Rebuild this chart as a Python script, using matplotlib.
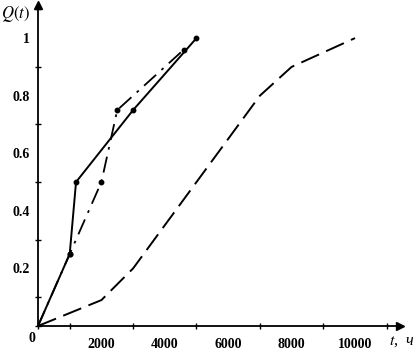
import matplotlib

matplotlib.use("Agg")
import matplotlib.pyplot as plt
from matplotlib.ticker import MultipleLocator, FixedLocator

plt.rcParams["mathtext.fontset"] = "stix"

# solid curve
t_solid = [0, 1000, 1200, 3000, 5000]
q_solid = [0, 0.25, 0.5, 0.75, 1.0]

# dash-dot curve
t_dashdot = [0, 1000, 2000, 2500, 4600]
q_dashdot = [0, 0.25, 0.5, 0.75, 0.96]

# dashed curve
t_dashed = [0, 2000, 3000, 4000, 5000, 6000, 7000, 8000, 10000]
q_dashed = [0, 0.09, 0.2, 0.35, 0.5, 0.65, 0.8, 0.9, 1.0]

x_ticks = [2000, 4000, 6000, 8000, 10000]
y_ticks = [0.2, 0.4, 0.6, 0.8, 1.0]
y_tick_labels = ["0.2", "0.4", "0.6", "0.8", "1"]

W, H = 414, 351
fig = plt.figure(figsize=(W / 100, H / 100), dpi=100)
ax = fig.add_axes([38 / W, 25 / H, (400 - 38) / W, (326 - 5) / H])

font = dict(family="Liberation Serif", fontsize=10, fontweight="bold")

ax.plot(t_solid, q_solid, color="black", lw=1.4, marker="o", ms=3.2)
ax.plot(t_dashdot, q_dashdot, color="black", lw=1.3, marker="o", ms=3.2,
        dashes=(9, 4, 1.5, 4))
ax.plot(t_dashed, q_dashed, color="black", lw=1.4, dashes=(10, 4))

ax.set_xlim(0, 11420)
ax.set_ylim(0, 1.115)

for s in ("top", "right"):
    ax.spines[s].set_visible(False)
for s in ("left", "bottom"):
    ax.spines[s].set_linewidth(1.3)

# arrow heads on the axes
ax.plot(1, 0, ">k", ms=6, transform=ax.transAxes, clip_on=False)
ax.plot(0, 1, "^k", ms=6, transform=ax.transAxes, clip_on=False)

ax.xaxis.set_major_locator(FixedLocator(x_ticks))
ax.xaxis.set_minor_locator(MultipleLocator(1000))
ax.yaxis.set_major_locator(FixedLocator(y_ticks))
ax.yaxis.set_minor_locator(MultipleLocator(0.1))
ax.set_xticklabels([str(v) for v in x_ticks], **font)
ax.set_yticklabels(y_tick_labels, **font)
ax.tick_params(which="both", direction="inout", length=5, width=1)
ax.tick_params(axis="x", which="major", length=0, pad=9)
ax.tick_params(axis="y", which="major", length=0, pad=6)

ax.text(-0.006, -0.02, "0", transform=ax.transAxes, ha="right", va="top", **font)
fig.text(1 / W, 1 - 4 / H, "$Q(t)$", ha="left", va="top", fontsize=12)
fig.text(389 / W, 1 - 333 / H, "$t$,  ч", ha="left", va="top", fontsize=11.5,
         family="Liberation Serif", style="italic")

fig.savefig("out.png", dpi=100)
